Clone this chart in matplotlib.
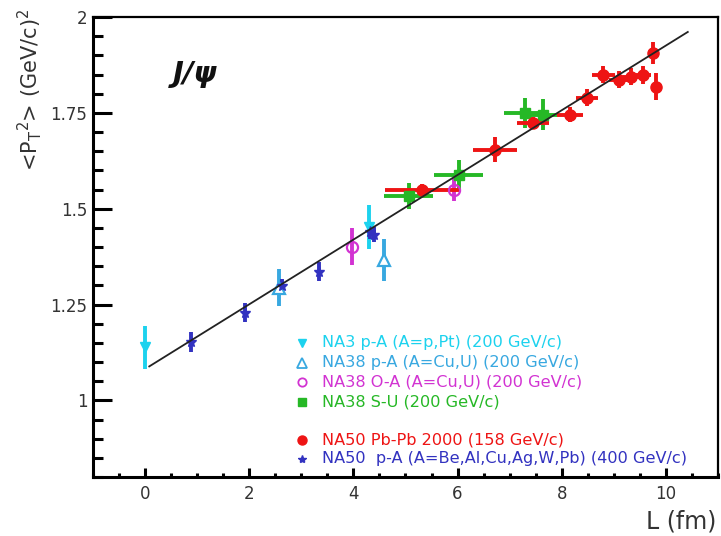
import matplotlib
matplotlib.use("Agg")
import matplotlib.pyplot as plt
from matplotlib.ticker import MultipleLocator

plt.rcParams["font.family"] = ["DejaVu Sans"]
plt.rcParams["mathtext.fontset"] = "dejavusans"

# NA3 p-A (A=p,Pt)
na3_x = [0.0, 4.29]
na3_y = [1.138, 1.453]
na3_yerr = [0.056, 0.057]

# NA38 p-A (A=Cu,U)
na38pa_x = [2.57, 4.58]
na38pa_y = [1.294, 1.367]
na38pa_yerr = [0.048, 0.055]

# NA38 O-A (A=Cu,U)
na38oa_x = [3.98, 5.93]
na38oa_y = [1.401, 1.550]
na38oa_yerr = [0.048, 0.030]

# NA38 S-U
na38su_x = [5.06, 6.02, 7.30, 7.64]
na38su_y = [1.534, 1.589, 1.750, 1.745]
na38su_xerr = [0.47, 0.47, 0.40, 0.27]
na38su_yerr = [0.034, 0.037, 0.040, 0.040]

# NA50 Pb-Pb 2000
na50pb_x = [5.32, 6.72, 7.45, 8.16, 8.49, 8.80, 9.10, 9.33, 9.56, 9.75, 9.81]
na50pb_y = [1.549, 1.654, 1.724, 1.745, 1.789, 1.849, 1.836, 1.844, 1.849, 1.906, 1.818]
na50pb_xerr = [0.72, 0.42, 0.30, 0.25, 0.21, 0.22, 0.20, 0.15, 0.15, 0.08, 0.08]
na50pb_yerr = [0.016, 0.033, 0.015, 0.020, 0.022, 0.022, 0.022, 0.022, 0.023, 0.029, 0.035]

# NA50 p-A (A=Be,Al,Cu,Ag,W,Pb)
na50pa_x = [0.88, 1.92, 2.62, 3.33, 4.32, 4.39]
na50pa_y = [1.151, 1.229, 1.297, 1.336, 1.440, 1.432]
na50pa_yerr = [0.026, 0.024, 0.020, 0.025, 0.020, 0.020]

# linear fit
fit_x = [0.08, 10.42]
fit_y = [1.0885, 1.961]

legend_labels = [
    "NA3 p-A (A=p,Pt) (200 GeV/c)",
    "NA38 p-A (A=Cu,U) (200 GeV/c)",
    "NA38 O-A (A=Cu,U) (200 GeV/c)",
    "NA38 S-U (200 GeV/c)",
    "NA50 Pb-Pb 2000 (158 GeV/c)",
    "NA50  p-A (A=Be,Al,Cu,Ag,W,Pb) (400 GeV/c)",
]

c_na3 = "#1cd2ee"
c_na38pa = "#38a8e0"
c_na38oa = "#d233d2"
c_na38su = "#26b826"
c_na50pb = "#ee1414"
c_na50pa = "#3232c0"

W, H = 721, 536
fig = plt.figure(figsize=(W / 100, H / 100), dpi=100)
ax = fig.add_axes([93 / W, 1 - 477 / H, (718 - 93) / W, (477 - 17) / H])

ax.plot(fit_x, fit_y, color="#222222", lw=1.3, zorder=5)

ekw = dict(capsize=0, elinewidth=2.8, ls="none", zorder=3)
ax.errorbar(na3_x, na3_y, yerr=na3_yerr, fmt="v", ms=7, color=c_na3, **ekw)
ax.errorbar(na38pa_x, na38pa_y, yerr=na38pa_yerr, fmt="^", ms=9, color=c_na38pa,
            mfc="white", mew=1.6, **ekw)
ax.errorbar(na38oa_x, na38oa_y, yerr=na38oa_yerr, fmt="o", ms=8, color=c_na38oa,
            mfc="none", mew=1.6, **ekw)
ax.errorbar(na38su_x, na38su_y, xerr=na38su_xerr, yerr=na38su_yerr, fmt="s", ms=7,
            color=c_na38su, **ekw)
ax.errorbar(na50pb_x, na50pb_y, xerr=na50pb_xerr, yerr=na50pb_yerr, fmt="o", ms=8,
            color=c_na50pb, **ekw)
ax.errorbar(na50pa_x, na50pa_y, yerr=na50pa_yerr, fmt="*", ms=8, color=c_na50pa, **ekw)

ax.set_xlim(-1, 11)
ax.set_ylim(0.8, 2.0)
ax.xaxis.set_major_locator(MultipleLocator(2))
ax.xaxis.set_minor_locator(MultipleLocator(0.5))
ax.yaxis.set_minor_locator(MultipleLocator(0.05))
ax.set_yticks([1.0, 1.25, 1.5, 1.75, 2.0])
ax.set_yticklabels(["1", "1.25", "1.5", "1.75", "2"])

ax.tick_params(axis="y", which="major", direction="in", length=14, width=2.2,
               labelsize=12, pad=4, labelcolor="#333333")
ax.tick_params(axis="y", which="minor", direction="in", length=7, width=2.2)
ax.tick_params(axis="x", which="major", direction="in", length=6.5, width=2.2,
               labelsize=12, pad=6, labelcolor="#333333")
ax.tick_params(axis="x", which="minor", direction="in", length=3.2, width=2.2)
for side in ["left", "bottom"]:
    ax.spines[side].set_linewidth(2.2)
for side in ["top", "right"]:
    ax.spines[side].set_linewidth(1.6)

ax.text(0.128, 0.876, "J/\u03c8", transform=ax.transAxes, fontsize=21,
        style="italic", weight="bold", ha="left", va="center", color="#111111")

fig.text(30 / W, 1 - 9 / H,
         r"<P$_\mathregular{T}$$^\mathregular{2}$> (GeV/c)$^\mathregular{2}$",
         rotation=90, ha="center", va="top", fontsize=15, color="#333333")
fig.text(716 / W, 1 - 521 / H, "L (fm)", ha="right", va="center",
         fontsize=17, color="#333333")

# hand-placed legend rows
leg_styles = [
    dict(marker="v", ms=6, color=c_na3),
    dict(marker="^", ms=7, color=c_na38pa, mfc="white", mew=1.3),
    dict(marker="o", ms=6, color=c_na38oa, mfc="white", mew=1.3),
    dict(marker="s", ms=5.5, color=c_na38su),
    dict(marker="o", ms=6.5, color=c_na50pb),
    dict(marker="*", ms=6, color=c_na50pa),
]
leg_rows = [343, 363, 382, 402, 440, 459]
leg_colors = [c_na3, c_na38pa, c_na38oa, c_na38su, c_na50pb, c_na50pa]
for label, style, row, col in zip(legend_labels, leg_styles, leg_rows, leg_colors):
    fig.lines.append(plt.Line2D([302 / W], [1 - row / H], transform=fig.transFigure,
                                ls="none", **style))
    fig.text(322 / W, 1 - row / H, label, ha="left", va="center", fontsize=11.6,
             color=col)

fig.savefig("out.png", dpi=100)
